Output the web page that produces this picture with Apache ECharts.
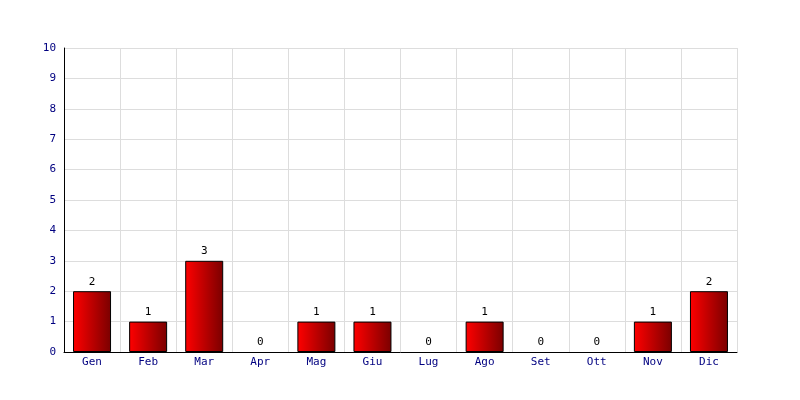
<!DOCTYPE html>
<html><head><meta charset="utf-8">
<script src="https://cdn.jsdelivr.net/npm/echarts@6/dist/echarts.min.js"></script>
<style>html,body{margin:0;padding:0;background:#fff}#c{width:800px;height:400px}</style>
</head><body><div id="c"></div>
<script>
const categories = ['Gen','Feb','Mar','Apr','Mag','Giu','Lug','Ago','Set','Ott','Nov','Dic'];
const values = [2,1,3,0,1,1,0,1,0,0,1,2];
const yTicks = [0,1,2,3,4,5,6,7,8,9,10];

const chart = echarts.init(document.getElementById('c'), null, {renderer:'canvas'});
const font = 'DejaVu Sans Mono';
const barData = values.map(v => v === 0 ? {value:v,itemStyle:{borderWidth:0,opacity:0}} : v);
chart.setOption({
  animation:false,
  backgroundColor:'#ffffff',
  grid:{left:64,right:63,top:48,bottom:48,containLabel:false,show:false},
  xAxis:{
    type:'category', data:categories, boundaryGap:true,
    axisLine:{show:true,lineStyle:{color:'#000',width:1}},
    axisTick:{show:false},
    axisLabel:{color:'#000080',fontFamily:font,fontSize:11,margin:5,interval:0},
    splitLine:{show:true,interval:0,lineStyle:{color:'#dddddd',width:1}}
  },
  yAxis:{
    type:'value', min:yTicks[0], max:yTicks[yTicks.length-1], interval:1,
    axisLine:{show:true,lineStyle:{color:'#000',width:1}},
    axisTick:{show:false},
    axisLabel:{color:'#000080',fontFamily:font,fontSize:11,margin:8},
    splitLine:{show:true,lineStyle:{color:'#dddddd',width:1}}
  },
  series:[{
    type:'bar', data:barData, barWidth:38,
    itemStyle:{
      color:new echarts.graphic.LinearGradient(0,0,1,0,[{offset:0,color:'#ff0000'},{offset:1,color:'#7a0000'}]),
      borderColor:'#000',borderWidth:1
    },
    label:{show:true,position:'top',color:'#000',fontFamily:font,fontSize:11,distance:4,opacity:1},
    showBackground:false
  }]
});
</script></body></html>
